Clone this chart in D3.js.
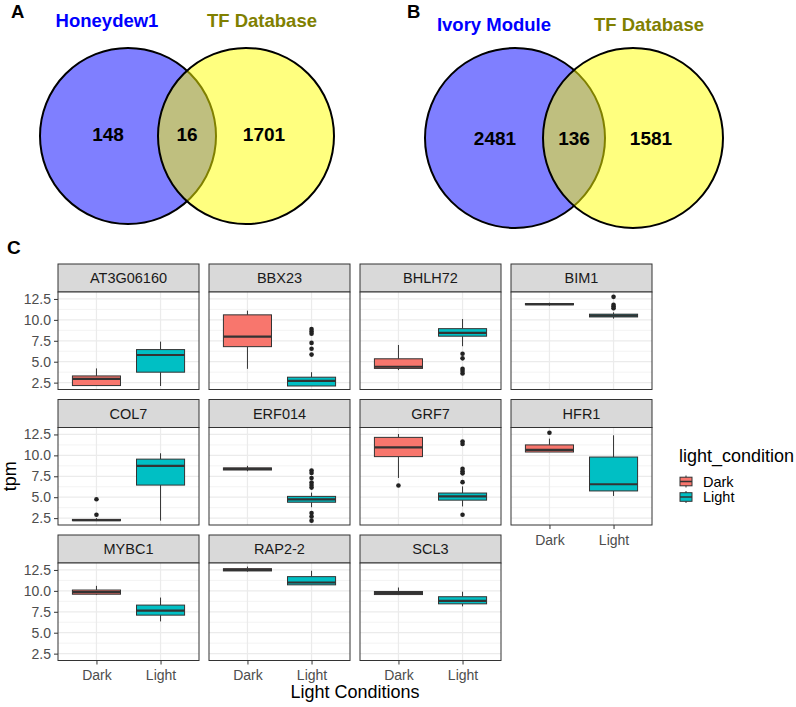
<!DOCTYPE html>
<html>
<head>
<meta charset="utf-8">
<script src="https://cdn.jsdelivr.net/npm/d3@7"></script>
<style>
body { margin: 0; background: #fff; }
text { font-family: "Liberation Sans", Arial, sans-serif; }
</style>
</head>
<body>
<div id="vis"></div>
<script>
// Venn panels (A, B): counts are [left only, overlap, right only]
const vennTags = ["A", "B"]
const vennTitles = [["Honeydew1", "TF Database"], ["Ivory Module", "TF Database"]]
const vennCounts = [[148, 16, 1701], [2481, 136, 1581]]

// Panel C, box summaries: [lower whisker, q1, median, q3, upper whisker]
const genes = ["AT3G06160", "BBX23", "BHLH72", "BIM1", "COL7", "ERF014", "GRF7", "HFR1", "MYBC1", "RAP2-2", "SCL3"]
const conditions = ["Dark", "Light"]
const darkStats = [
    [2.1, 2.15, 2.95, 3.3, 4.2],
    [4.15, 6.8, 8.0, 10.6, 11.1],
    [4.0, 4.2, 4.4, 5.35, 7.0],
    [11.7, 11.8, 11.88, 11.95, 12.05],
    [2.15, 2.2, 2.25, 2.35, 2.5],
    [8.1, 8.25, 8.38, 8.5, 8.75],
    [7.3, 9.85, 10.95, 12.15, 12.55],
    [10.4, 10.4, 10.65, 11.25, 12.0],
    [9.5, 9.6, 9.85, 10.1, 10.6],
    [12.3, 12.38, 12.5, 12.65, 12.9],
    [9.5, 9.56, 9.75, 9.92, 10.4]
]
const lightStats = [
    [2.1, 3.75, 5.8, 6.45, 7.4],
    [2.1, 2.1, 2.7, 3.15, 3.75],
    [6.85, 8.05, 8.45, 8.95, 10.1],
    [10.15, 10.35, 10.5, 10.68, 10.9],
    [2.2, 6.45, 8.75, 9.55, 10.25],
    [3.8, 4.4, 4.75, 5.1, 5.55],
    [3.9, 4.65, 5.1, 5.5, 6.3],
    [5.15, 5.75, 6.55, 9.8, 12.4],
    [6.35, 7.1, 7.65, 8.3, 9.2],
    [10.7, 10.72, 11.0, 11.7, 12.4],
    [8.15, 8.45, 8.8, 9.3, 9.9]
]
const darkOutliers = [[], [], [], [], [4.75, 2.9], [], [6.4], [12.7], [], [], []]
const lightOutliers = [
    [],
    [8.9, 8.62, 8.35, 7.25, 6.55, 5.85],
    [5.95, 5.4, 4.15, 3.9, 3.6],
    [12.75, 11.8, 11.6, 11.4],
    [],
    [8.2, 7.9, 7.3, 6.75, 6.45, 6.15, 3.1, 2.7, 2.2],
    [11.65, 11.35, 8.4, 8.1, 7.85, 6.8, 2.9],
    [], [], [], []
]
const yTicks = [2.5, 5.0, 7.5, 10.0, 12.5]
const yMinor = [3.75, 6.25, 8.75, 11.25]

const colors = {Dark: "#F8766D", Light: "#00BFC4"}
const dark = "#333333"

const svg = d3.select("#vis")
    .append("svg")
    .attr("width", 796)
    .attr("height", 707)

// ---------- Venn diagrams ----------
const vennLayout = [
    {tagX: 11, tagY: 18, mid: 187, cy: 136, r: 88, titleY: 27, countY: 141},
    {tagX: 407, tagY: 18, mid: 574, cy: 138, r: 90, titleY: 31, countY: 145}
]
const sep = 118

vennLayout.forEach((v, k) => {
    let g = svg.append("g")
    g.append("text").attr("x", v.tagX).attr("y", v.tagY)
        .attr("font-size", 18.5).attr("font-weight", "bold").text(vennTags[k])

    g.selectAll("circle")
        .data(["blue", "yellow"])
        .enter()
        .append("circle")
        .attr("cx", (d, i) => v.mid + (i === 0 ? -sep / 2 : sep / 2))
        .attr("cy", v.cy)
        .attr("r", v.r)
        .attr("fill", d => d)
        .attr("fill-opacity", 0.5)
        .attr("stroke", "#000")
        .attr("stroke-width", 2)

    g.selectAll(".vtitle")
        .data(vennTitles[k])
        .enter()
        .append("text")
        .attr("x", (d, i) => v.mid + (i === 0 ? -80 : 75))
        .attr("y", v.titleY)
        .attr("text-anchor", "middle")
        .attr("font-size", 18.5)
        .attr("font-weight", "bold")
        .attr("fill", (d, i) => i === 0 ? "#0000ff" : "#808000")
        .text(d => d)

    g.selectAll(".vcount")
        .data(vennCounts[k])
        .enter()
        .append("text")
        .attr("x", (d, i) => v.mid + [-79, 0, 77][i])
        .attr("y", v.countY)
        .attr("text-anchor", "middle")
        .attr("font-size", 19)
        .attr("font-weight", "bold")
        .text(d => d)
})

// ---------- Panel C: faceted box plots ----------
svg.append("text").attr("x", 7).attr("y", 254)
    .attr("font-size", 19).attr("font-weight", "bold").text("C")

const facetLeft = 58, facetTop = 264
const colStep = 151, rowStep = 135.5
const stripH = 28, pw = 141, ph = 97.5

const x = d3.scalePoint().domain(conditions).range([0, pw]).padding(0.6)
const y = d3.scaleLinear().domain([1.68, 13.33]).range([ph, 0])
const bw = x.step() * 0.75

genes.forEach((gene, i) => {
    let col = i % 4, row = Math.floor(i / 4)
    let g = svg.append("g")
        .attr("transform", `translate(${facetLeft + col * colStep},${facetTop + row * rowStep})`)

    // strip
    g.append("rect").attr("width", pw).attr("height", stripH)
        .attr("fill", "#d9d9d9").attr("stroke", dark).attr("stroke-width", 1)
    g.append("text").attr("x", pw / 2).attr("y", stripH / 2 + 5)
        .attr("text-anchor", "middle").attr("font-size", 14.5).attr("fill", "#1a1a1a")
        .text(gene)

    let p = g.append("g").attr("transform", `translate(0,${stripH})`)
    p.append("rect").attr("width", pw).attr("height", ph).attr("fill", "#fff")

    // grid
    p.selectAll(".minor").data(yMinor).enter().append("line")
        .attr("x1", 0).attr("x2", pw)
        .attr("y1", d => y(d)).attr("y2", d => y(d))
        .attr("stroke", "#ebebeb").attr("stroke-width", 0.6)
    p.selectAll(".major").data(yTicks).enter().append("line")
        .attr("x1", 0).attr("x2", pw)
        .attr("y1", d => y(d)).attr("y2", d => y(d))
        .attr("stroke", "#ebebeb").attr("stroke-width", 1.2)
    p.selectAll(".vgrid").data(conditions).enter().append("line")
        .attr("x1", d => x(d)).attr("x2", d => x(d))
        .attr("y1", 0).attr("y2", ph)
        .attr("stroke", "#ebebeb").attr("stroke-width", 1.2)

    // boxes
    let stats = [darkStats[i], lightStats[i]]
    let outs = [darkOutliers[i], lightOutliers[i]]
    conditions.forEach((c, j) => {
        let s = stats[j], cx = x(c)
        p.append("line").attr("x1", cx).attr("x2", cx)
            .attr("y1", y(s[0])).attr("y2", y(s[1]))
            .attr("stroke", dark).attr("stroke-width", 1)
        p.append("line").attr("x1", cx).attr("x2", cx)
            .attr("y1", y(s[3])).attr("y2", y(s[4]))
            .attr("stroke", dark).attr("stroke-width", 1)
        p.append("rect")
            .attr("x", cx - bw / 2).attr("width", bw)
            .attr("y", y(s[3])).attr("height", Math.max(y(s[1]) - y(s[3]), 0.5))
            .attr("fill", colors[c]).attr("stroke", dark).attr("stroke-width", 1)
        p.append("line").attr("x1", cx - bw / 2).attr("x2", cx + bw / 2)
            .attr("y1", y(s[2])).attr("y2", y(s[2]))
            .attr("stroke", dark).attr("stroke-width", 2.2)
        p.selectAll(".out" + j).data(outs[j]).enter().append("circle")
            .attr("cx", cx).attr("cy", d => y(d)).attr("r", 2.3)
            .attr("fill", "#222")
    })

    p.append("rect").attr("width", pw).attr("height", ph)
        .attr("fill", "none").attr("stroke", dark).attr("stroke-width", 1)

    // axes
    if (col === 0) {
        let ax = p.append("g")
            .call(d3.axisLeft(y).tickValues(yTicks).tickFormat(d3.format(".1f")).tickSize(4).tickPadding(3))
        styleAxis(ax)
    }
    if (i + 4 >= genes.length) {
        let ax = p.append("g").attr("transform", `translate(0,${ph})`)
            .call(d3.axisBottom(x).tickSize(4).tickPadding(6))
        styleAxis(ax)
    }
})

function styleAxis(ax) {
    ax.select(".domain").remove()
    ax.attr("font-family", null).attr("font-size", null)
    ax.selectAll("line").attr("stroke", dark).attr("stroke-width", 1)
    ax.selectAll("text").attr("fill", "#4d4d4d").attr("font-size", 14)
}

// axis titles
svg.append("text")
    .attr("x", facetLeft + (3 * colStep + pw) / 2).attr("y", 698)
    .attr("text-anchor", "middle").attr("font-size", 18)
    .text("Light Conditions")
svg.append("text")
    .attr("transform", `translate(16,${facetTop + stripH + (2 * rowStep + ph) / 2}) rotate(-90)`)
    .attr("text-anchor", "middle").attr("font-size", 18)
    .text("tpm")

// legend
const legend = svg.append("g").attr("transform", "translate(679,0)")
legend.append("text").attr("x", 0).attr("y", 462).attr("font-size", 18).text("light_condition")
conditions.forEach((c, j) => {
    let cy = 481.5 + j * 15.5
    let k = legend.append("g")
    k.append("line").attr("x1", 7).attr("x2", 7).attr("y1", cy - 6).attr("y2", cy + 6)
        .attr("stroke", dark).attr("stroke-width", 1)
    k.append("rect").attr("x", 1).attr("y", cy - 4.3).attr("width", 12).attr("height", 8.6)
        .attr("fill", colors[c]).attr("stroke", dark).attr("stroke-width", 1)
    k.append("line").attr("x1", 1).attr("x2", 13).attr("y1", cy).attr("y2", cy)
        .attr("stroke", dark).attr("stroke-width", 1.5)
    k.append("text").attr("x", 24).attr("y", cy + 5).attr("font-size", 14.5).text(c)
})
</script>
</body>
</html>
